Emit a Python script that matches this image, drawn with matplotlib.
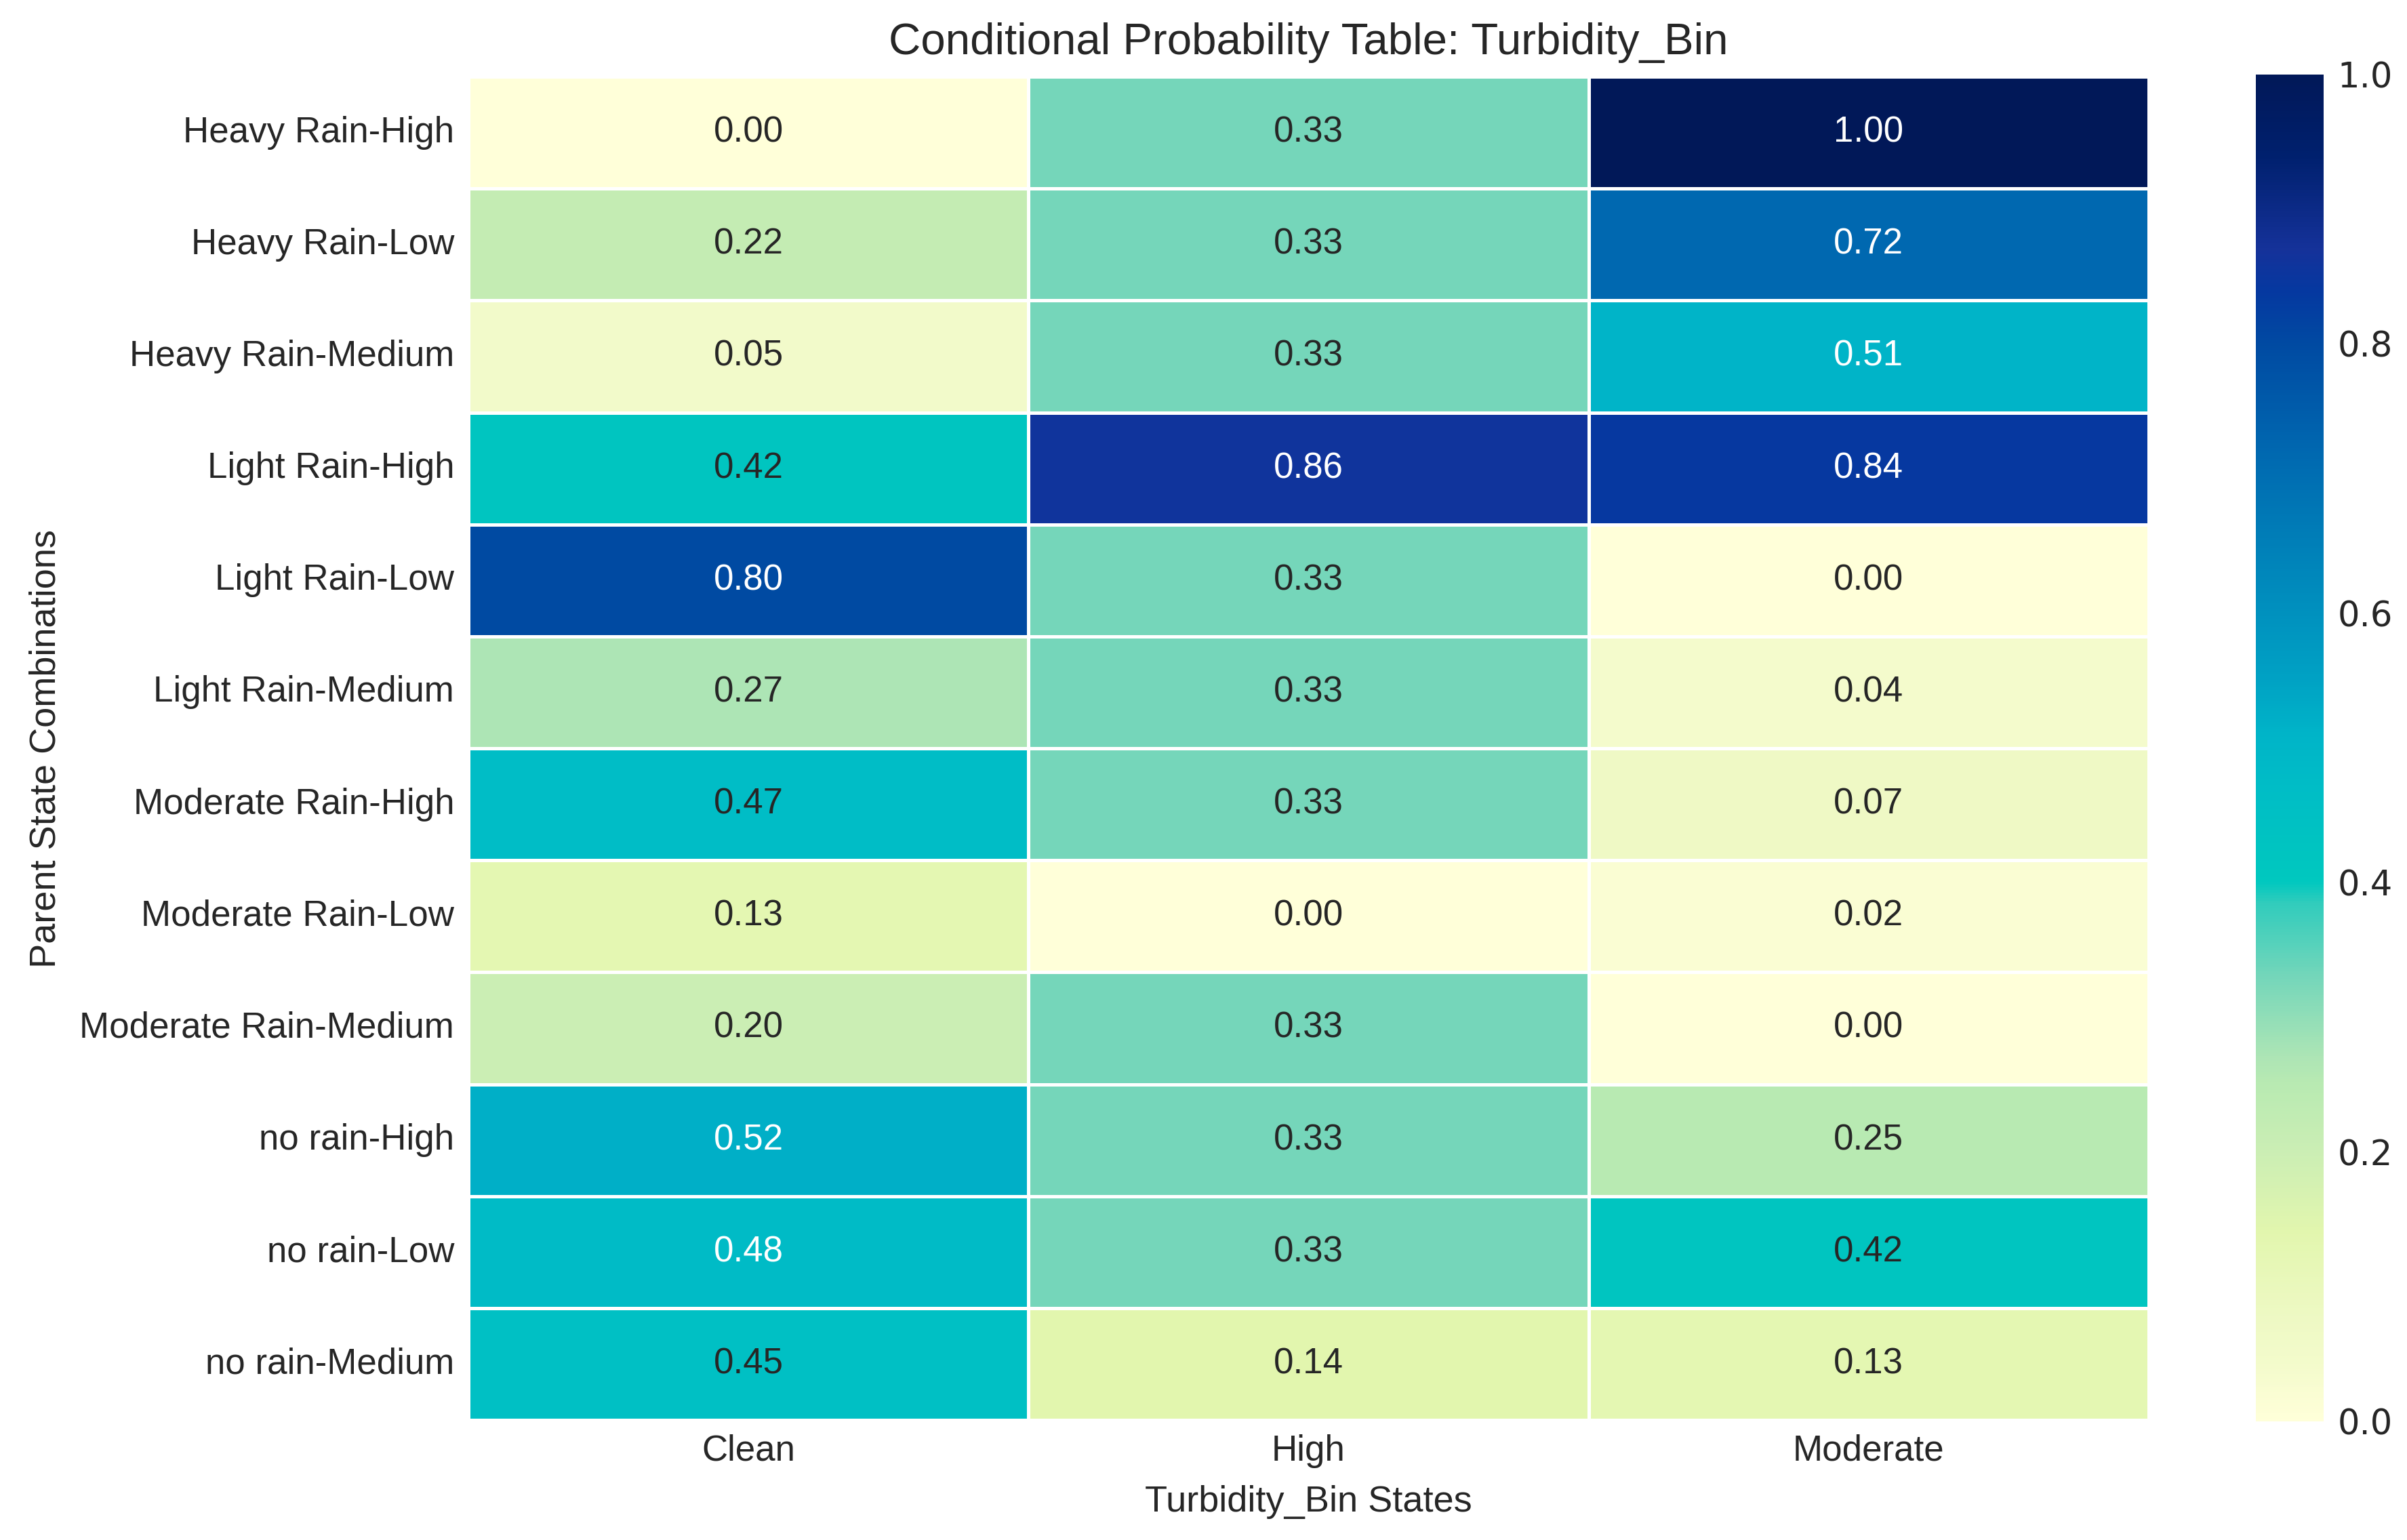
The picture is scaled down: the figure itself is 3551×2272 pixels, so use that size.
import matplotlib
matplotlib.use("Agg")
import matplotlib.pyplot as plt
from matplotlib.colors import LinearSegmentedColormap
import numpy as np
import pandas as pd
import seaborn as sns

parent_states = ["Heavy Rain-High", "Heavy Rain-Low", "Heavy Rain-Medium",
                 "Light Rain-High", "Light Rain-Low", "Light Rain-Medium",
                 "Moderate Rain-High", "Moderate Rain-Low", "Moderate Rain-Medium",
                 "no rain-High", "no rain-Low", "no rain-Medium"]
turbidity_states = ["Clean", "High", "Moderate"]
clean_vals = [0.00, 0.22, 0.05, 0.42, 0.80, 0.27, 0.47, 0.13, 0.20, 0.52, 0.48, 0.45]
high_vals = [0.33, 0.33, 0.33, 0.86, 0.33, 0.33, 0.33, 0.00, 0.33, 0.33, 0.33, 0.14]
moderate_vals = [1.00, 0.72, 0.51, 0.84, 0.00, 0.04, 0.07, 0.02, 0.00, 0.25, 0.42, 0.13]

df = pd.DataFrame({"Clean": clean_vals, "High": high_vals, "Moderate": moderate_vals},
                  index=parent_states)[turbidity_states]

# saturated YlGnBu-like colormap (anchors)
cmap_anchors = [
    (0.00, "#FFFFD9"), (0.04, "#F4FBCC"), (0.075, "#EEF9C4"), (0.14, "#E2F6AE"),
    (0.20, "#CBEEB4"), (0.25, "#B8EAB2"), (0.27, "#ADE5B5"), (0.33, "#74D6BA"),
    (0.385, "#30CCBC"), (0.40, "#00C8BF"), (0.42, "#00C5C0"), (0.47, "#00BDC6"),
    (0.51, "#00B4C8"), (0.55, "#00A2C4"), (0.62, "#008ABC"), (0.72, "#0068B0"),
    (0.80, "#004AA2"), (0.84, "#0538A0"), (0.87, "#15329A"), (0.94, "#00206E"),
    (1.00, "#011858"),
]
cmap = LinearSegmentedColormap.from_list("ylgnbu_sat", cmap_anchors, N=512)

plt.rcParams['font.family'] = ['Liberation Sans', 'DejaVu Sans']
plt.rcParams['text.color'] = '#262626'
plt.rcParams['axes.labelcolor'] = '#262626'
plt.rcParams['xtick.color'] = '#262626'
plt.rcParams['ytick.color'] = '#262626'

W, H = 3551, 2272
fig = plt.figure(figsize=(W / 300, H / 300), dpi=300)
ax = fig.add_axes([691 / W, 1 - 2095 / H, (3170 - 691) / W, (2095 - 113) / H])
cax = fig.add_axes([3328 / W, 1 - 2097 / H, 100 / W, (2097 - 110) / H])

sns.heatmap(df, ax=ax, cbar_ax=cax, cmap=cmap, annot=True, fmt=".2f",
            linewidths=1.2, linecolor="white", vmin=0, vmax=1,
            annot_kws={"fontsize": 12.7})

# annotation colours: white on dark cells, dark grey on light cells
flat_vals = df.values.flatten()
for txt, v in zip(ax.texts, flat_vals):
    txt.set_color("white" if v > 0.475 else "#262626")

ax.set_title("Conditional Probability Table: Turbidity_Bin", fontsize=15.7, pad=8)
ax.set_xlabel("Turbidity_Bin States", fontsize=13, labelpad=6)
ax.set_ylabel("Parent State Combinations", fontsize=13, labelpad=6)
ax.tick_params(axis='both', length=0, labelsize=12.7, pad=5)
plt.setp(ax.get_yticklabels(), rotation=0)
plt.setp(ax.get_xticklabels(), rotation=0)

cax.tick_params(length=0, labelsize=12.3, pad=5)
cax.set_yticks([0.0, 0.2, 0.4, 0.6, 0.8, 1.0])
cax.set_yticklabels(["0.0", "0.2", "0.4", "0.6", "0.8", "1.0"], family='DejaVu Sans')

fig.savefig("out.png", dpi=300)
